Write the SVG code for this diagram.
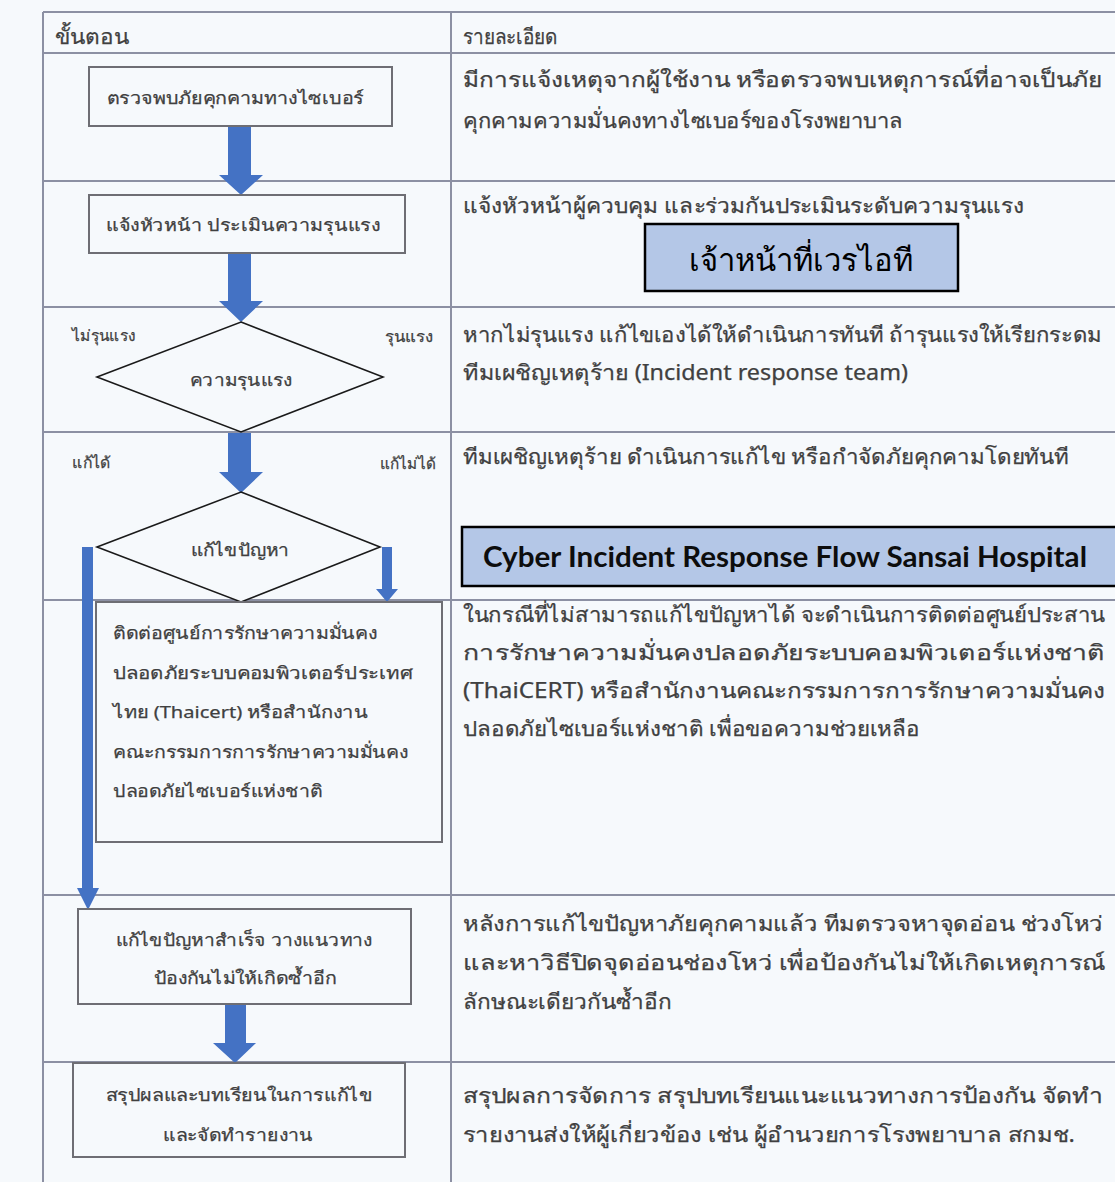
<svg xmlns="http://www.w3.org/2000/svg" width="1115" height="1182" viewBox="0 0 1115 1182">
<style>
.bg{fill:#f6f9fc}
.grid{stroke:#8c90a3;stroke-width:2;fill:none}
.box{fill:#f6f9fc;stroke:#6e6e74;stroke-width:2}
.dia{fill:#f6f9fc;stroke:#1a1a1a;stroke-width:1.6}
.arr{fill:#4472c4}
.t{font-family:"Noto Sans","Liberation Sans",sans-serif;fill:#404040;stroke:#404040;stroke-width:0.25}
.l{font-size:17px}
.s{font-size:15px}
.r{font-size:21px}
.c{text-anchor:middle}
.blue{fill:#b4c7e7;stroke:#000;stroke-width:2.5}
.ser{font-family:"Liberation Serif","DejaVu Serif",serif;font-size:31px;fill:#000;text-anchor:middle}
.ttl{font-family:Lato,"Liberation Sans",sans-serif;font-size:28px;font-weight:bold;fill:#0d0d0d}
</style>
<rect class="bg" x="0" y="0" width="1115" height="1182"/>
<g id="table">
<line class="grid" x1="43" y1="12" x2="1115" y2="12"/>
<line class="grid" x1="43" y1="53" x2="1115" y2="53"/>
<line class="grid" x1="43" y1="181" x2="1115" y2="181"/>
<line class="grid" x1="43" y1="307" x2="1115" y2="307"/>
<line class="grid" x1="43" y1="432" x2="1115" y2="432"/>
<line class="grid" x1="43" y1="600" x2="1115" y2="600"/>
<line class="grid" x1="43" y1="895" x2="1115" y2="895"/>
<line class="grid" x1="43" y1="1062" x2="1115" y2="1062"/>
<line class="grid" x1="43" y1="12" x2="43" y2="1182"/>
<line class="grid" x1="451" y1="12" x2="451" y2="1182"/>
<text class="t r" x="55" y="44" textLength="74" lengthAdjust="spacingAndGlyphs">ขั้นตอน</text>
<text class="t r" x="463" y="44" textLength="95" lengthAdjust="spacingAndGlyphs">รายละเอียด</text>
</g>
<g id="connectors">
<polygon class="arr" points="228,126 251,126 251,175 263,175 241,195 219,175 228,175"/>
<polygon class="arr" points="228,253 251,253 251,301 263,301 241,322 219,301 228,301"/>
<polygon class="arr" points="228,433 251,433 251,472 263,472 241,493 219,472 228,472"/>
<polygon class="arr" points="82,547 93,547 93,888 99,888 88,910 77,888 82,888"/>
<polygon class="arr" points="382,547 392,547 392,589 398,589 387,602 376,589 382,589"/>
<polygon class="arr" points="225,1004 246,1004 246,1043 256,1043 235,1063 213,1043 225,1043"/>
</g>
<g id="n1">
<rect class="box" x="89" y="67" width="303" height="59"/>
<text class="t l c" x="235" y="104" textLength="257" lengthAdjust="spacingAndGlyphs">ตรวจพบภัยคุกคามทางไซเบอร์</text>
</g>
<g id="n2">
<rect class="box" x="89" y="195" width="316" height="58"/>
<text class="t l c" x="243" y="231" textLength="274" lengthAdjust="spacingAndGlyphs">แจ้งหัวหน้า ประเมินความรุนแรง</text>
</g>
<g id="n3">
<polygon class="dia" points="241,322 383,377 241,432 97,377"/>
<text class="t l c" x="241" y="386" textLength="102" lengthAdjust="spacingAndGlyphs">ความรุนแรง</text>
<text class="t s" x="72" y="341" textLength="63" lengthAdjust="spacingAndGlyphs">ไม่รุนแรง</text>
<text class="t s" x="385" y="342" textLength="48" lengthAdjust="spacingAndGlyphs">รุนแรง</text>
</g>
<g id="n4">
<polygon class="dia" points="241,492 380,547 241,602 97,547"/>
<text class="t l c" x="240" y="556" textLength="99" lengthAdjust="spacingAndGlyphs">แก้ไขปัญหา</text>
<text class="t s" x="72" y="468" textLength="39" lengthAdjust="spacingAndGlyphs">แก้ได้</text>
<text class="t s" x="380" y="469" textLength="56" lengthAdjust="spacingAndGlyphs">แก้ไม่ได้</text>
</g>
<g id="n5">
<rect class="box" x="96" y="602" width="346" height="240"/>
<text class="t l" x="113" y="639" textLength="264" lengthAdjust="spacingAndGlyphs">ติดต่อศูนย์การรักษาความมั่นคง</text>
<text class="t l" x="113" y="679" textLength="300" lengthAdjust="spacingAndGlyphs">ปลอดภัยระบบคอมพิวเตอร์ประเทศ</text>
<text class="t l" x="113" y="718" textLength="255" lengthAdjust="spacingAndGlyphs">ไทย (Thaicert) หรือสำนักงาน</text>
<text class="t l" x="113" y="758" textLength="295" lengthAdjust="spacingAndGlyphs">คณะกรรมการการรักษาความมั่นคง</text>
<text class="t l" x="113" y="797" textLength="210" lengthAdjust="spacingAndGlyphs">ปลอดภัยไซเบอร์แห่งชาติ</text>
</g>
<g id="n6">
<rect class="box" x="78" y="909" width="333" height="95"/>
<text class="t l c" x="244" y="946" textLength="257" lengthAdjust="spacingAndGlyphs">แก้ไขปัญหาสำเร็จ วางแนวทาง</text>
<text class="t l c" x="245" y="984" textLength="183" lengthAdjust="spacingAndGlyphs">ป้องกันไม่ให้เกิดซ้ำอีก</text>
</g>
<g id="n7">
<rect class="box" x="73" y="1063" width="332" height="94"/>
<text class="t l c" x="239" y="1101" textLength="267" lengthAdjust="spacingAndGlyphs">สรุปผลและบทเรียนในการแก้ไข</text>
<text class="t l c" x="238" y="1141" textLength="150" lengthAdjust="spacingAndGlyphs">และจัดทำรายงาน</text>
</g>
<g id="details">
<text class="t r" x="463" y="87" textLength="639" lengthAdjust="spacingAndGlyphs">มีการแจ้งเหตุจากผู้ใช้งาน หรือตรวจพบเหตุการณ์ที่อาจเป็นภัย</text>
<text class="t r" x="463" y="128" textLength="440" lengthAdjust="spacingAndGlyphs">คุกคามความมั่นคงทางไซเบอร์ของโรงพยาบาล</text>
<text class="t r" x="463" y="213" textLength="561" lengthAdjust="spacingAndGlyphs">แจ้งหัวหน้าผู้ควบคุม และร่วมกันประเมินระดับความรุนแรง</text>
<text class="t r" x="463" y="342" textLength="639" lengthAdjust="spacingAndGlyphs">หากไม่รุนแรง แก้ไขเองได้ให้ดำเนินการทันที ถ้ารุนแรงให้เรียกระดม</text>
<text class="t r" x="463" y="380" textLength="445" lengthAdjust="spacingAndGlyphs">ทีมเผชิญเหตุร้าย (Incident response team)</text>
<text class="t r" x="463" y="464" textLength="606" lengthAdjust="spacingAndGlyphs">ทีมเผชิญเหตุร้าย ดำเนินการแก้ไข หรือกำจัดภัยคุกคามโดยทันที</text>
<text class="t r" x="463" y="622" textLength="642" lengthAdjust="spacingAndGlyphs">ในกรณีที่ไม่สามารถแก้ไขปัญหาได้ จะดำเนินการติดต่อศูนย์ประสาน</text>
<text class="t r" x="463" y="660" textLength="642" lengthAdjust="spacingAndGlyphs">การรักษาความมั่นคงปลอดภัยระบบคอมพิวเตอร์แห่งชาติ</text>
<text class="t r" x="463" y="698" textLength="642" lengthAdjust="spacingAndGlyphs">(ThaiCERT) หรือสำนักงานคณะกรรมการการรักษาความมั่นคง</text>
<text class="t r" x="463" y="736" textLength="457" lengthAdjust="spacingAndGlyphs">ปลอดภัยไซเบอร์แห่งชาติ เพื่อขอความช่วยเหลือ</text>
<text class="t r" x="463" y="931" textLength="640" lengthAdjust="spacingAndGlyphs">หลังการแก้ไขปัญหาภัยคุกคามแล้ว ทีมตรวจหาจุดอ่อน ช่วงโหว่</text>
<text class="t r" x="463" y="970" textLength="642" lengthAdjust="spacingAndGlyphs">และหาวิธีปิดจุดอ่อนช่องโหว่ เพื่อป้องกันไม่ให้เกิดเหตุการณ์</text>
<text class="t r" x="463" y="1009" textLength="209" lengthAdjust="spacingAndGlyphs">ลักษณะเดียวกันซ้ำอีก</text>
<text class="t r" x="463" y="1103" textLength="640" lengthAdjust="spacingAndGlyphs">สรุปผลการจัดการ สรุปบทเรียนแนะแนวทางการป้องกัน จัดทำ</text>
<text class="t r" x="463" y="1142" textLength="612" lengthAdjust="spacingAndGlyphs">รายงานส่งให้ผู้เกี่ยวข้อง เช่น ผู้อำนวยการโรงพยาบาล สกมช.</text>
</g>
<g id="staff">
<rect class="blue" x="645" y="224" width="313" height="67"/>
<text class="ser" x="801" y="271">เจ้าหน้าที่เวรไอที</text>
</g>
<g id="title">
<rect class="blue" x="462" y="527" width="670" height="59"/>
<text class="ttl" x="483" y="567" textLength="604" lengthAdjust="spacingAndGlyphs">Cyber Incident Response Flow Sansai Hospital</text>
</g>
</svg>
